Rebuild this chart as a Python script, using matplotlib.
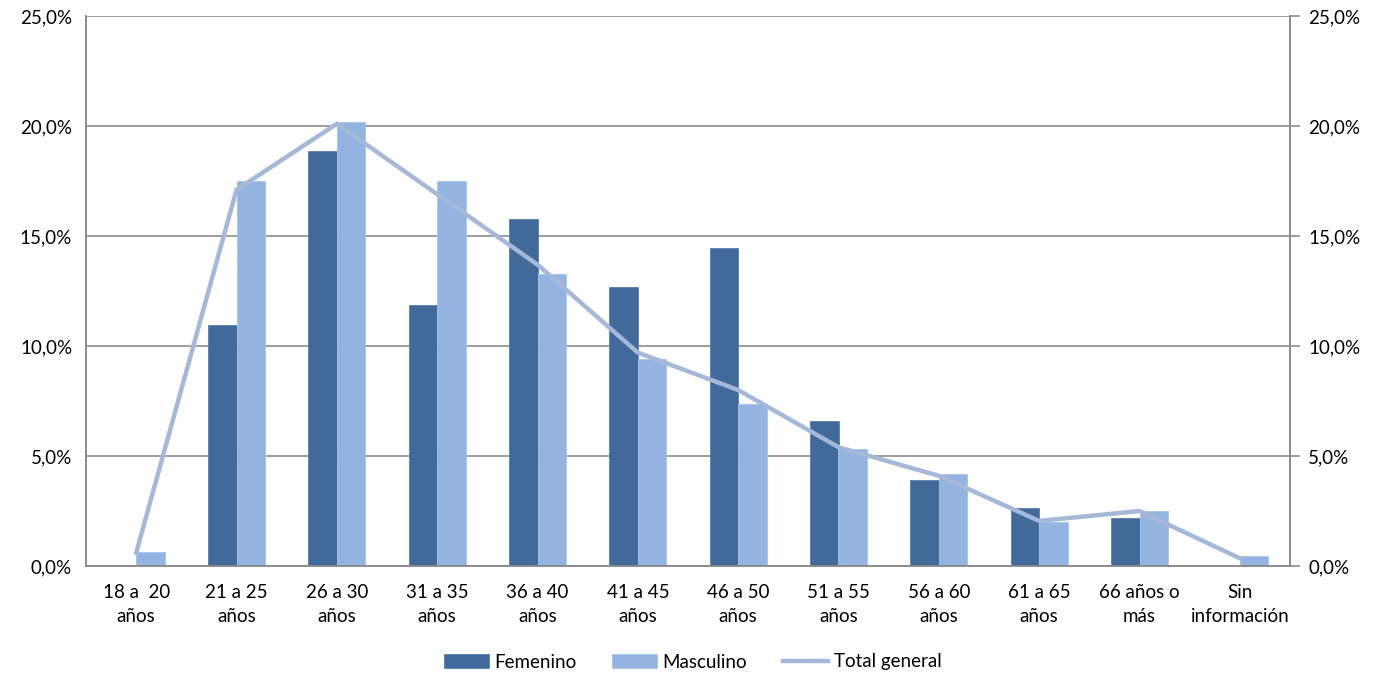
import matplotlib
matplotlib.use("Agg")
import matplotlib.pyplot as plt
import numpy as np
from matplotlib.ticker import FuncFormatter, MultipleLocator

categories = ["18 a  20\naños", "21 a 25\naños", "26 a 30\naños", "31 a 35\naños",
              "36 a 40\naños", "41 a 45\naños", "46 a 50\naños", "51 a 55\naños",
              "56 a 60\naños", "61 a 65\naños", "66 años o\nmás", "Sin\ninformación"]
femenino = [0.0, 10.95, 18.86, 11.86, 15.77, 12.68, 14.45, 6.59, 3.91, 2.64, 2.18, 0.0]
masculino = [0.64, 17.5, 20.18, 17.5, 13.27, 9.41, 7.36, 5.32, 4.18, 2.0, 2.5, 0.45]
total = [0.6, 17.1, 20.1, 16.9, 13.7, 9.7, 8.0, 5.4, 4.1, 2.05, 2.5, 0.35]

plt.rcParams['font.family'] = ['Lato', 'DejaVu Sans']
FS = 13.5

fig = plt.figure(figsize=(13.85, 6.77), dpi=100)
ax = fig.add_axes([86/1385, 1-566/677, (1290-86)/1385, (566-16)/677])

x = np.arange(len(categories))
w = 0.285
c_f = "#416a9b"
c_m = "#93b4e0"
c_t = "#a6b8d8"
ax.bar(x - w/2, femenino, w, color=c_f, edgecolor="#5a7fb0", linewidth=0.6, label="Femenino", zorder=2)
ax.bar(x + w/2, masculino, w, color=c_m, edgecolor="#a9c4e8", linewidth=0.6, label="Masculino", zorder=2)
ax2 = ax.twinx()
ax2.plot(x, total, color=c_t, linewidth=3.2, label="Total general", zorder=3, solid_joinstyle='miter')

for a in (ax, ax2):
    a.set_ylim(0, 25)
    a.yaxis.set_major_locator(MultipleLocator(5))
    a.yaxis.set_major_formatter(FuncFormatter(lambda v, p: f"{v:.1f}%".replace(".", ",")))
    a.tick_params(axis='y', labelsize=FS, length=0, pad=10, colors="black")
    for s in a.spines.values():
        s.set_color("#8c8c8c")
        s.set_linewidth(1.2)
ax.set_xlim(-0.5, len(categories) - 0.5)
ax.set_xticks(x)
ax.set_xticklabels(categories, fontsize=FS, linespacing=1.5)
ax.tick_params(axis='x', length=0, pad=13)
ax2.tick_params(axis='y', length=7, color="#8c8c8c", width=1.2, pad=6)
ax.grid(axis='y', color="#8c8c8c", linewidth=1.2, zorder=0)
ax.set_axisbelow(True)
ax.spines['top'].set_visible(False)
ax2.spines['top'].set_visible(False)

h1, l1 = ax.get_legend_handles_labels()
h2, l2 = ax2.get_legend_handles_labels()
fig.legend(h1 + h2, l1 + l2, loc='center', bbox_to_anchor=(0.5, 1-662/677), ncol=3,
           frameon=False, fontsize=FS, handlelength=2.4, handleheight=0.7,
           columnspacing=1.9, handletextpad=0.3)

fig.savefig("out.png", dpi=100)
